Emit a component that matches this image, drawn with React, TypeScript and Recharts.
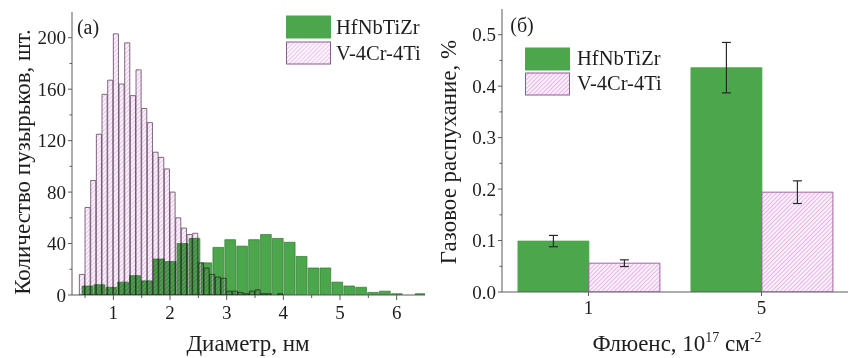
import React from 'react';
import { BarChart, Bar, XAxis, YAxis, Legend, ErrorBar } from 'recharts';

const FONT = '"Liberation Serif", "Times New Roman", serif';
const TXT = '#1e1e1e';
const AXIS = '#5a5a5a';
const GREEN = '#4ca64c';
const GREEN_EDGE = '#2e7a2e';

// (a) histogram: bubble diameters, nm
const X_MIN = 0.27;
const X_MAX = 6.5;
const PINK_START = 0.4;
const PINK_BIN = 0.1;
const pinkCounts = [16, 68, 89, 125, 156, 167, 203, 164, 196, 155, 175, 145, 134, 111, 107, 98, 80, 60, 52, 47, 48, 25, 21, 16, 14, 13, 3, 3, 2, 1, 3, 4, 1, 1, 0, 1];
const GREEN_START = 0.43;
const GREEN_BIN = 0.21;
const greenCounts = [7, 8, 6, 10, 15, 11, 28, 26, 40, 44, 25, 37, 43, 38, 43, 47, 44, 41, 30, 21, 21, 10, 7, 6, 2, 3, 1, 0, 1];
const xTicksA = [0.5, 1, 1.5, 2, 2.5, 3, 3.5, 4, 4.5, 5, 5.5, 6];
const yTicksA = [0, 20, 40, 60, 80, 100, 120, 140, 160, 180, 200];

// (б) gas swelling vs fluence
const fluence = ['1', '5'];
const hfSwelling = [0.099, 0.436];
const hfErr = [0.011, 0.049];
const vSwelling = [0.056, 0.194];
const vErr = [0.0065, 0.022];
const yTicksB = [0, 0.05, 0.1, 0.15, 0.2, 0.25, 0.3, 0.35, 0.4, 0.45, 0.5];

const SERIES = ['HfNbTiZr', 'V-4Cr-4Ti'];

const greenRows = greenCounts.map((c, i) => ({ x: +(GREEN_START + GREEN_BIN * (i + 0.5)).toFixed(3), count: c }));
const pinkRows = pinkCounts.map((c, i) => ({ x: +(PINK_START + PINK_BIN * (i + 0.5)).toFixed(3), count: c }));
const swellRows = fluence.map((f, i) => ({ name: f, hf: hfSwelling[i], hfErr: hfErr[i], v: vSwelling[i], vErr: vErr[i] }));

// left chart geometry
const A_W = 430, H = 358;
const A_M = { top: 12, right: 5, left: 0, bottom: 0 };
const A_YW = 72, A_XH = 63;
const pxPerUnit = (A_W - A_M.right - A_YW) / (X_MAX - X_MIN);

const XTickA = (p: any) => {
  const v = p.payload.value;
  const major = Number.isInteger(v);
  return (
    <g>
      <line x1={p.x} x2={p.x} y1={p.y} y2={p.y + (major ? 5 : 3)} stroke={AXIS} />
      {major && <text x={p.x} y={p.y + 24} textAnchor="middle" fontSize={19} fontFamily={FONT} fill={TXT}>{v}</text>}
    </g>
  );
};

const YTickA = (p: any) => {
  const v = p.payload.value;
  const major = v % 40 === 0;
  return (
    <g>
      <line x1={p.x - (major ? 4 : 2.5)} x2={p.x} y1={p.y} y2={p.y} stroke={AXIS} />
      {major && <text x={p.x - 6} y={p.y + 6.5} textAnchor="end" fontSize={19} fontFamily={FONT} fill={TXT}>{v}</text>}
    </g>
  );
};

const XTickB = (p: any) => (
  <g>
    <line x1={p.x} x2={p.x} y1={p.y} y2={p.y + 4} stroke={AXIS} />
    <text x={p.x} y={p.y + 22} textAnchor="middle" fontSize={19} fontFamily={FONT} fill={TXT}>{p.payload.value}</text>
  </g>
);

const YTickB = (p: any) => {
  const v = p.payload.value;
  const major = Math.round(v * 100) % 10 === 0;
  return (
    <g>
      <line x1={p.x - (major ? 4 : 2.5)} x2={p.x} y1={p.y} y2={p.y} stroke={AXIS} />
      {major && <text x={p.x - 6} y={p.y + 6.5} textAnchor="end" fontSize={19} fontFamily={FONT} fill={TXT}>{v.toFixed(1)}</text>}
    </g>
  );
};

const YTickBRight = (p: any) => {
  const major = Math.round(p.payload.value * 100) % 10 === 0;
  return <line x1={p.x - (major ? 4 : 2.5)} x2={p.x} y1={p.y} y2={p.y} stroke={AXIS} />;
};

const Hatch = ({ id, line, bg, step = 3 }: { id: string; line: string; bg: string; step?: number }) => (
  <pattern id={id} width={step} height={step} patternUnits="userSpaceOnUse" patternTransform="rotate(45)">
    <rect width={step} height={step} fill={bg} />
    <line x1={0} y1={0} x2={0} y2={step} stroke={line} strokeWidth={1.2} />
  </pattern>
);

const LegendBlock = ({ hatchId, edge, gap, pitch }: { hatchId: string; edge: string; gap: number; pitch: number }) => (
  <div style={{ fontFamily: FONT, fontSize: 20.5, color: TXT }}>
    {SERIES.map((s, i) => (
      <div key={s} style={{ display: 'flex', alignItems: 'center', height: pitch, whiteSpace: 'nowrap' }}>
        <svg width={46} height={24}>
          <rect x={0.5} y={1} width={44} height={22} fill={i === 0 ? GREEN : `url(#${hatchId})`} stroke={i === 0 ? GREEN : edge} strokeWidth={1} />
        </svg>
        <span style={{ marginLeft: gap }}>{s}</span>
      </div>
    ))}
  </div>
);

const Title = ({ x, y, rotate, size = 23, children }: { x: number; y: number; rotate?: boolean; size?: number; children: React.ReactNode }) => (
  <div style={{
    position: 'absolute', left: x, top: y, transform: `translate(-50%, -50%)${rotate ? ' rotate(-90deg)' : ''}`,
    fontFamily: FONT, fontSize: size, color: TXT, whiteSpace: 'nowrap', lineHeight: 1,
  }}>{children}</div>
);

export default function App() {
  return (
    <div style={{ position: 'absolute', left: 0, top: 0, width: 849, height: H, background: '#fff', overflow: 'hidden' }}>
      <svg width={0} height={0} style={{ position: 'absolute' }}>
        <defs>
          <Hatch id="hatchA" line="#e2a4e2" bg="#fdf5fd" />
          <Hatch id="hatchB" line="#d98bd9" bg="#fdf1fd" />
        </defs>
      </svg>

      {/* (a) green histogram + axes */}
      <div style={{ position: 'absolute', left: 0, top: 0 }}>
        <BarChart width={A_W} height={H} data={greenRows} margin={A_M} barCategoryGap={0} barGap={0}>
          <XAxis dataKey="x" type="number" domain={[X_MIN, X_MAX]} allowDataOverflow ticks={xTicksA} interval={0}
            height={A_XH} tickSize={0} tickMargin={0} tickLine={false} tick={<XTickA />} axisLine={{ stroke: AXIS }} />
          <XAxis xAxisId="top" orientation="top" dataKey="x" type="number" domain={[X_MIN, X_MAX]} allowDataOverflow
            height={0} tick={false} tickLine={false} axisLine={{ stroke: AXIS }} />
          <YAxis domain={[0, 220]} allowDataOverflow ticks={yTicksA} interval={0} width={A_YW} tickSize={0} tickMargin={0}
            tickLine={false} tick={<YTickA />} axisLine={{ stroke: AXIS }} />
          <YAxis yAxisId="r" orientation="right" domain={[0, 220]} width={0} tick={false} tickLine={false} axisLine={{ stroke: AXIS }} />
          <Bar dataKey="count" fill={GREEN} stroke={GREEN_EDGE} strokeWidth={0.7} barSize={GREEN_BIN * pxPerUnit} isAnimationActive={false} />
          <Legend layout="vertical" verticalAlign="middle" align="center" wrapperStyle={{ top: 14, left: 286, width: 'auto' }}
            content={() => <LegendBlock hatchId="hatchA" edge="#8a5a8a" gap={4} pitch={26} />} />
        </BarChart>
      </div>

      {/* (a) pink histogram, multiplied over the green one */}
      <div style={{ position: 'absolute', left: 0, top: 0, mixBlendMode: 'multiply' }}>
        <BarChart width={A_W} height={H} data={pinkRows} barCategoryGap={0} barGap={0}
          margin={{ top: A_M.top, right: A_M.right, left: A_YW, bottom: A_XH }}>
          <XAxis dataKey="x" type="number" domain={[X_MIN, X_MAX]} allowDataOverflow hide />
          <YAxis domain={[0, 220]} allowDataOverflow hide />
          <Bar dataKey="count" fill="url(#hatchA)" stroke="#5e465e" strokeWidth={0.8} barSize={PINK_BIN * pxPerUnit} isAnimationActive={false} />
        </BarChart>
      </div>

      {/* (б) swelling bars */}
      <div style={{ position: 'absolute', left: 430, top: 0 }}>
        <BarChart width={419} height={H} data={swellRows} margin={{ top: 9, right: 1, left: 0, bottom: 0 }} barCategoryGap="9.2%" barGap={0}>
          <XAxis dataKey="name" height={66} tickSize={0} tickMargin={0} tickLine={false} tick={<XTickB />} axisLine={{ stroke: AXIS }} />
          <XAxis xAxisId="top" orientation="top" dataKey="name" height={0} tick={false} tickLine={false} axisLine={{ stroke: AXIS }} />
          <YAxis domain={[0, 0.55]} allowDataOverflow ticks={yTicksB} interval={0} width={72} tickSize={0} tickMargin={0}
            tickLine={false} tick={<YTickB />} axisLine={{ stroke: AXIS }} />
          <YAxis yAxisId="r" orientation="right" domain={[0, 0.55]} allowDataOverflow ticks={yTicksB} interval={0} width={0}
            tickSize={0} tickMargin={0} tickLine={false} tick={<YTickBRight />} axisLine={{ stroke: AXIS }} />
          <Bar dataKey="hf" fill={GREEN} stroke={GREEN} strokeWidth={0.8} isAnimationActive={false}>
            <ErrorBar dataKey="hfErr" width={4.5} stroke="#2a2a2a" strokeWidth={1.2} isAnimationActive={false} />
          </Bar>
          <Bar dataKey="v" fill="url(#hatchB)" stroke="#9a559a" strokeWidth={0.9} isAnimationActive={false}>
            <ErrorBar dataKey="vErr" width={4.5} stroke="#2a2a2a" strokeWidth={1.2} isAnimationActive={false} />
          </Bar>
          <Legend layout="vertical" verticalAlign="middle" align="center" wrapperStyle={{ top: 46, left: 95, width: 'auto' }}
            content={() => <LegendBlock hatchId="hatchB" edge="#9a559a" gap={6} pitch={25} />} />
        </BarChart>
      </div>

      <Title x={88} y={27} size={20}>(a)</Title>
      <Title x={522} y={25} size={20}>(б)</Title>
      <Title x={22} y={162} rotate>Количество пузырьков, шт.</Title>
      <Title x={248} y={343}>Диаметр, нм</Title>
      <Title x={448} y={152} rotate>Газовое распухание, %</Title>
      <Title x={677} y={343}>Флюенс, 10<sup style={{ fontSize: 14 }}>17</sup> см<sup style={{ fontSize: 14 }}>-2</sup></Title>
    </div>
  );
}
